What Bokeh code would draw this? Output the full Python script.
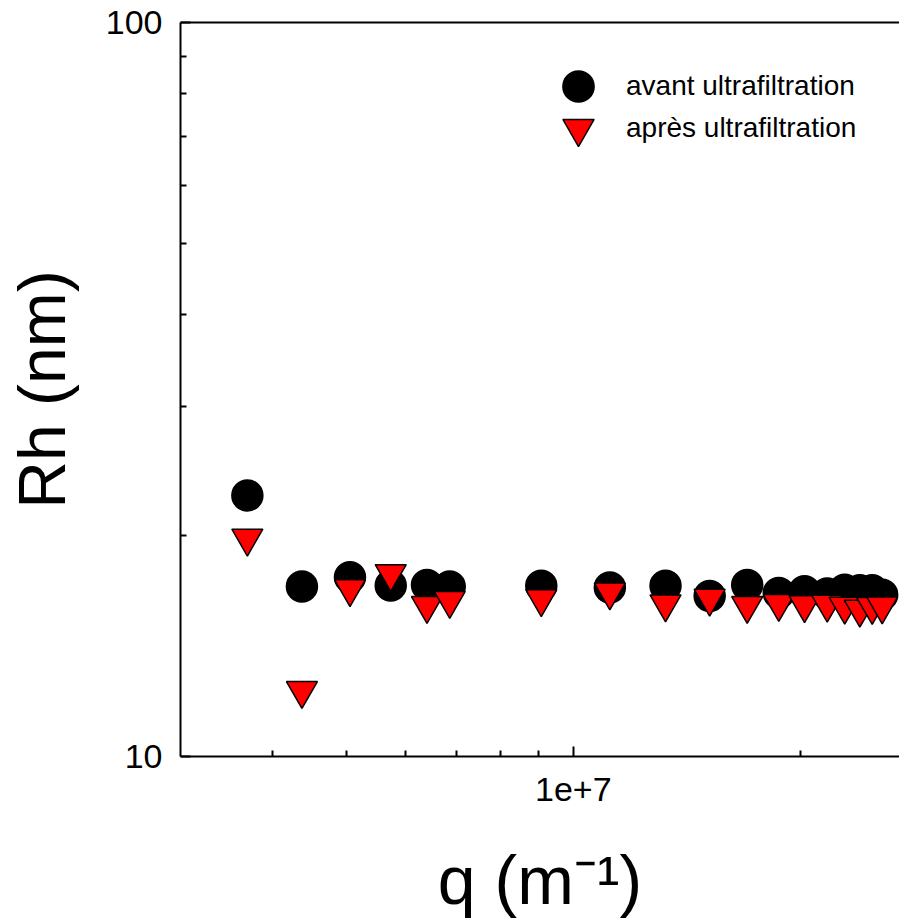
from bokeh.plotting import figure
from bokeh.models import (ColumnDataSource, Range1d, FixedTicker, LogAxis,
                          CustomJSTickFormatter, Legend, LegendItem)
from bokeh.embed import file_html
from bokeh.resources import INLINE

# ---- data ----
q_values = [3.70e6, 4.37e6, 5.06e6, 5.73e6, 6.40e6, 6.86e6, 9.07e6, 1.118e7,
            1.325e7, 1.516e7, 1.70e7, 1.872e7, 2.025e7, 2.17e7, 2.289e7,
            2.397e7, 2.489e7, 2.566e7]
rh_avant = [22.68, 17.04, 17.55, 17.10, 17.13, 17.04, 17.08, 16.99, 17.08,
            16.55, 17.13, 16.70, 16.79, 16.67, 16.87, 16.84, 16.85, 16.61]
rh_apres = [19.84, 12.30, 16.93, 17.75, 16.06, 16.32, 16.41, 16.75, 16.14,
            16.43, 16.06, 16.16, 16.10, 16.12, 16.02, 15.87, 16.01, 16.04]
series_names = ["avant ultrafiltration", "après ultrafiltration"]
x_major_ticks = [1e7]
x_minor_ticks = [4e6, 5e6, 6e6, 7e6, 8e6, 9e6, 2e7]
y_major_ticks = [10, 100]
y_minor_ticks = [20, 30, 40, 50, 60, 70, 80, 90]
x_label = "q (m\u207b\u00b9)"
y_label = "Rh (nm)"

FONT = "Liberation Sans"

src = ColumnDataSource(dict(q=q_values, avant=rh_avant, apres=rh_apres))

p = figure(width=899, height=924, x_axis_type="log", y_axis_type="log",
           x_range=Range1d(3.0173e6, 2.7053e7), y_range=Range1d(10, 100),
           output_backend="svg", toolbar_location=None,
           min_border_left=180, min_border_right=0, min_border_top=22,
           min_border_bottom=168)
p.outline_line_color = None
p.background_fill_color = "white"
p.border_fill_color = "white"
p.xgrid.visible = False
p.ygrid.visible = False

r_avant = p.scatter("q", "avant", source=src, marker="circle", size=31,
                    fill_color="black", line_color="black", line_width=1.5)
r_apres = p.scatter("q", "apres", source=src, marker="inverted_triangle",
                    size=31, fill_color="#ff0000", line_color="black",
                    line_width=1.5)

for ax, major, minor, code in (
        (p.xaxis[0], x_major_ticks, x_minor_ticks, "return tick.toExponential();"),
        (p.yaxis[0], y_major_ticks, y_minor_ticks, "return String(tick);")):
    ax.ticker = FixedTicker(ticks=major, minor_ticks=minor)
    ax.formatter = CustomJSTickFormatter(code=code)
    ax.axis_line_width = 2
    ax.axis_line_color = "black"
    ax.major_tick_in = 10
    ax.major_tick_out = 0
    ax.minor_tick_in = 6
    ax.minor_tick_out = 0
    ax.major_tick_line_width = 2
    ax.minor_tick_line_width = 2
    ax.major_label_text_font = FONT
    ax.major_label_text_font_size = "34px"
    ax.major_label_text_color = "black"
    ax.axis_label_text_font = FONT
    ax.axis_label_text_font_style = "normal"
    ax.axis_label_text_color = "black"
    ax.axis_label_text_line_height = 1.0
p.yaxis[0].major_label_standoff = 18
p.xaxis[0].major_label_standoff = 21
p.yaxis[0].axis_label = y_label
p.yaxis[0].axis_label_text_font_size = "66px"
p.yaxis[0].axis_label_standoff = 24
p.xaxis[0].axis_label = x_label
p.xaxis[0].axis_label_text_font_size = "68px"
p.xaxis[0].axis_label_standoff = 38

top = LogAxis(ticker=FixedTicker(ticks=[]), axis_line_width=2,
              major_tick_in=0, major_tick_out=0, minor_tick_in=0,
              minor_tick_out=0, major_label_text_font_size="0px",
              major_label_standoff=0)
p.add_layout(top, "above")


def key(renderer, label, loc):
    return Legend(items=[LegendItem(label=label, renderers=[renderer])],
                  location=loc, glyph_width=78, glyph_height=78, padding=0,
                  margin=0, label_standoff=9, label_text_font=FONT,
                  label_text_font_size="28px", label_text_color="black",
                  background_fill_alpha=0, border_line_color=None)


p.add_layout(key(r_avant, series_names[0], (359, 631)))
p.add_layout(key(r_apres, series_names[1], (359, 589)))

open("out.html", "w").write(file_html(p, INLINE))
